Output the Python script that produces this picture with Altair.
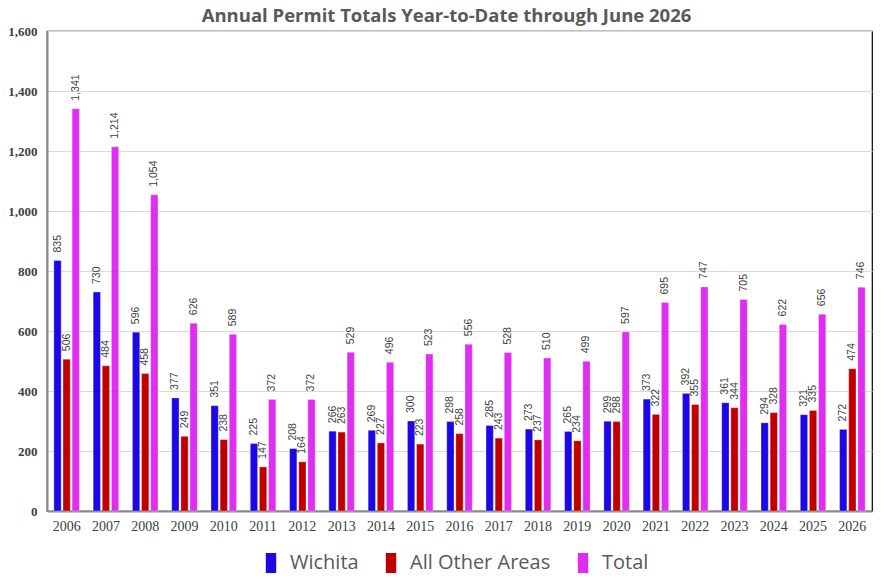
import altair as alt
import pandas as pd

years = [str(y) for y in range(2006, 2027)]
series = ['Wichita', 'All Other Areas', 'Total']
colors = ['#1c08e6', '#c00000', '#df2ef2']

wichita = [835, 730, 596, 377, 351, 225, 208, 266, 269, 300, 298,
           285, 273, 265, 299, 373, 392, 361, 294, 321, 272]
other = [506, 484, 458, 249, 238, 147, 164, 263, 227, 223, 258,
         243, 237, 234, 298, 322, 355, 344, 328, 335, 474]
total = [1341, 1214, 1054, 626, 589, 372, 372, 529, 496, 523, 556,
         528, 510, 499, 597, 695, 747, 705, 622, 656, 746]

rows = []
for name, vals in zip(series, [wichita, other, total]):
    for yr, v in zip(years, vals):
        rows.append({'Year': yr, 'Series': name, 'Value': v})
source = pd.DataFrame(rows)

x_enc = alt.X('Year:N', title=None, sort=years,
              scale=alt.Scale(paddingInner=0.35, paddingOuter=0.175),
              axis=alt.Axis(labelAngle=0, ticks=False, labelPadding=8,
                            labelFont='Liberation Sans Narrow', labelFontSize=14,
                            labelColor='#404040', domainColor='#8a8a8a', domainWidth=2,
                            grid=False))
xoff = alt.XOffset('Series:N', sort=series, scale=alt.Scale(paddingInner=0.2, paddingOuter=0))
y_enc = alt.Y('Value:Q', title=None,
              scale=alt.Scale(domain=[0, 1600], nice=False),
              axis=alt.Axis(values=list(range(0, 1601, 200)), format=',.0f', ticks=False,
                            labelPadding=10, labelFont='Liberation Serif', labelFontSize=13,
                            labelFontWeight='bold', labelColor='#404040',
                            domainColor='#8a8a8a', domainWidth=2,
                            gridColor='#d9d9d9', gridWidth=1))

bars = alt.Chart(source).mark_bar(strokeWidth=0.6, stroke='white', strokeOpacity=0.5).encode(
    x=x_enc,
    xOffset=xoff,
    y=y_enc,
    color=alt.Color('Series:N', sort=series,
                    scale=alt.Scale(domain=series, range=colors),
                    legend=alt.Legend(orient='none', legendX=214, legendY=522,
                                      direction='horizontal', title=None,
                                      labelFont='Open Sans', labelFontSize=20,
                                      labelColor='#595959', labelOffset=9,
                                      symbolType='M-0.52,-1H0.52V1H-0.52Z',
                                      symbolSize=400, symbolStrokeWidth=0,
                                      columnPadding=22)),
)

labels = alt.Chart(source).mark_text(
    angle=270, align='left', baseline='middle', dx=8,
    font='Liberation Sans', fontSize=10.5, color='#404040'
).encode(
    x=alt.X('Year:N', sort=years),
    xOffset=alt.XOffset('Series:N', sort=series),
    y=alt.Y('Value:Q'),
    text=alt.Text('Value:Q', format=','),
)

chart = (
    alt.layer(bars, labels)
    .properties(
        width=825, height=480,
        autosize=alt.AutoSizeParams(type='none'),
        padding={'left': 39, 'top': 23, 'right': 10, 'bottom': 66},
        title=alt.Title('Annual Permit Totals Year-to-Date through June 2026',
                        font='Open Sans', fontSize=18.5, fontWeight='bold',
                        color='#595959', anchor='middle', frame='group', dx=-13, offset=0),
    )
    .configure_view(stroke='black', strokeWidth=1.2)
)

chart.save("out.html", embed_options={"renderer": "svg", "actions": False})
